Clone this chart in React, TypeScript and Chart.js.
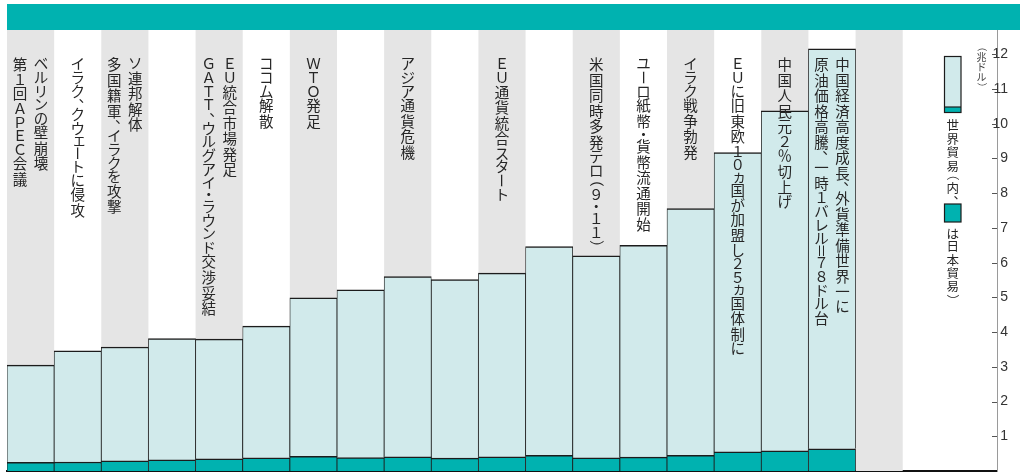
import React, { useEffect, useRef } from "react";
import { Chart, registerables } from "chart.js";

Chart.register(...registerables);

// ---- data ----
const years = [
  "1989", "1990", "1991", "1992", "1993", "1994", "1995", "1996", "1997",
  "1998", "1999", "2000", "2001", "2002", "2003", "2004", "2005", "2006", "2007",
];
const spareCategories = ["", " "];
// 世界貿易 (兆ドル)
const worldTrade = [
  3.05, 3.46, 3.57, 3.81, 3.8, 4.17, 4.99, 5.22, 5.6, 5.51, 5.7, 6.46, 6.2, 6.5,
  7.56, 9.17, 10.37, 12.16,
];
// 日本貿易 (兆ドル)
const japanTrade = [
  0.25, 0.26, 0.29, 0.32, 0.35, 0.38, 0.42, 0.39, 0.41, 0.37, 0.41, 0.45, 0.38,
  0.4, 0.45, 0.55, 0.58, 0.64,
];
const events: string[][] = [
  ["ベルリンの壁崩壊", "第１回ＡＰＥＣ会議"],
  ["イラク、クウェートに侵攻"],
  ["ソ連邦解体", "多国籍軍、イラクを攻撃"],
  [],
  ["ＥＵ統合市場発足", "ＧＡＴＴ、ウルグアイ・ラウンド交渉妥結"],
  ["ココム解散"],
  ["ＷＴＯ発足"],
  [],
  ["アジア通貨危機"],
  [],
  ["ＥＵ通貨統合スタート"],
  [],
  ["米国同時多発テロ（９・１１）"],
  ["ユーロ紙幣・貨幣流通開始"],
  ["イラク戦争勃発"],
  ["ＥＵに旧東欧１０ヵ国が加盟し２５ヵ国体制に"],
  ["中国人民元２％切上げ"],
  ["中国経済高度成長、外貨準備世界一に", "原油価格高騰、一時１バレル＝７８ドル台"],
];
const unitLabel = "（兆ドル）";
const legendWorld = "世界貿易（内、";
const legendJapan = "は日本貿易）";
const yMax = 12.7;

// ---- styles ----
const TEAL = "#00b2b0";
const LIGHT = "#d1eaeb";
const BAND = "#e5e5e5";
const EDGE = "#1c1c1c";
const INK = "#262626";
const CJK = '"Noto Sans CJK JP", "Noto Sans", sans-serif';

const SMALL_KANA = "ァィゥェォッャュョヮヵヶぁぃぅぇぉっゃゅょ";
const ROTATE = "ー－（）()＝=～〜";
const COMMA = "、。，．";

function advance(ch: string, s: number): number {
  if (COMMA.includes(ch)) return s * 0.68;
  if (ch === "・") return s * 0.7;
  if ("（）()".includes(ch)) return s * 0.72;
  if ("＝=".includes(ch)) return s * 0.72;
  if (SMALL_KANA.includes(ch)) return s * 0.78;
  if (/[\u3040-\u30ff]/.test(ch)) return s * 0.94;
  if (/[\uff10-\uff5a]/.test(ch)) return s * 0.94;
  return s * 1.07;
}

function drawVertical(
  ctx: CanvasRenderingContext2D,
  text: string,
  cx: number,
  top: number,
  s: number
) {
  ctx.save();
  ctx.font = `${s}px ${CJK}`;
  ctx.textAlign = "center";
  ctx.textBaseline = "middle";
  let y = top;
  for (const ch of Array.from(text)) {
    const a = advance(ch, s);
    const yc = y + a / 2;
    if (ROTATE.includes(ch)) {
      ctx.save();
      ctx.translate(cx, yc);
      ctx.rotate(Math.PI / 2);
      let dx = 0;
      if (ch === "（") dx = -s * 0.22;
      if (ch === "）") dx = s * 0.22;
      ctx.fillText(ch, dx, 0);
      ctx.restore();
    } else if (COMMA.includes(ch)) {
      ctx.fillText(ch, cx + s * 0.55, yc - s * 0.42);
    } else if (SMALL_KANA.includes(ch)) {
      ctx.fillText(ch, cx + s * 0.1, yc - s * 0.08);
    } else {
      ctx.fillText(ch, cx, yc);
    }
    y += a;
  }
  ctx.restore();
}

const backdropPlugin = {
  id: "backdrop",
  beforeDraw(chart: any) {
    const { ctx, chartArea, width } = chart;
    ctx.save();
    ctx.fillStyle = TEAL;
    ctx.fillRect(chartArea.left, 4, width - chartArea.left, chartArea.top - 4);
    ctx.restore();
  },
  beforeDatasetsDraw(chart: any) {
    const { ctx, chartArea } = chart;
    const xs = chart.scales.x;
    const w = xs.getPixelForValue(1) - xs.getPixelForValue(0);
    ctx.save();
    ctx.fillStyle = BAND;
    for (let i = 0; i < years.length; i += 2) {
      const x0 = xs.getPixelForValue(i) - w / 2;
      ctx.fillRect(x0, chartArea.top, w, chartArea.bottom - chartArea.top);
    }
    ctx.restore();
  },
};

const textPlugin = {
  id: "texts",
  afterDatasetsDraw(chart: any) {
    const { ctx, chartArea } = chart;
    const xs = chart.scales.x;
    const ys = chart.scales.y;
    ctx.save();
    ctx.fillStyle = INK;
    const top = chartArea.top + 27;
    events.forEach((lines, i) => {
      const cx = xs.getPixelForValue(i);
      if (lines.length === 1) {
        drawVertical(ctx, lines[0], cx, top, 14.5);
      } else if (lines.length === 2) {
        drawVertical(ctx, lines[0], cx + 10.5, top, 14.5);
        drawVertical(ctx, lines[1], cx - 10.5, top, 14.5);
      }
    });

    // legend
    const lx = 944.5;
    const lw = 16.5;
    const boxTop = 56.5;
    const boxBottom = 112.5;
    const tealH = 5.5;
    ctx.fillStyle = LIGHT;
    ctx.fillRect(lx, boxTop, lw, boxBottom - boxTop);
    ctx.fillStyle = TEAL;
    ctx.fillRect(lx, boxBottom - tealH, lw, tealH);
    ctx.strokeStyle = EDGE;
    ctx.lineWidth = 1.2;
    ctx.strokeRect(lx, boxTop, lw, boxBottom - boxTop);
    ctx.beginPath();
    ctx.moveTo(lx, boxBottom - tealH);
    ctx.lineTo(lx + lw, boxBottom - tealH);
    ctx.stroke();
    ctx.fillStyle = INK;
    drawVertical(ctx, legendWorld, lx + lw / 2, 119, 12.5);
    ctx.fillStyle = TEAL;
    ctx.fillRect(lx, 204, lw, 18);
    ctx.strokeRect(lx, 204, lw, 18);
    ctx.fillStyle = INK;
    drawVertical(ctx, legendJapan, lx + lw / 2, 228, 12.5);

    // unit
    ctx.fillStyle = "#444";
    drawVertical(ctx, unitLabel, 981.5, 45, 10);

    // y tick marks on the inner side of the axis
    ctx.strokeStyle = "#555";
    ctx.lineWidth = 1;
    ys.ticks.forEach((t: any) => {
      if (t.value <= 0) return;
      const y = Math.round(ys.getPixelForValue(t.value)) + 0.5;
      ctx.beginPath();
      ctx.moveTo(chartArea.right - 5, y);
      ctx.lineTo(chartArea.right, y);
      ctx.stroke();
    });
    ctx.restore();
  },
};

export default function App() {
  const ref = useRef<HTMLCanvasElement>(null);
  useEffect(() => {
    document.body.style.margin = "0";
    const canvas = ref.current!;
    const labels = [...years, ...spareCategories];
    const japan = labels.map((_, i) => (i < japanTrade.length ? japanTrade[i] : null));
    const rest = labels.map((_, i) =>
      i < worldTrade.length ? +(worldTrade[i] - japanTrade[i]).toFixed(3) : null
    );
    const border = { top: 1.5, left: 0.8, right: 0.8, bottom: 0 };
    const chart = new Chart(canvas, {
      type: "bar",
      data: {
        labels,
        datasets: [
          {
            label: "日本貿易",
            data: japan,
            backgroundColor: TEAL,
            borderColor: EDGE,
            borderWidth: border,
            barPercentage: 1,
            categoryPercentage: 1,
          },
          {
            label: "世界貿易",
            data: rest,
            backgroundColor: LIGHT,
            borderColor: EDGE,
            borderWidth: border,
            barPercentage: 1,
            categoryPercentage: 1,
          },
        ],
      },
      options: {
        animation: false,
        responsive: false,
        devicePixelRatio: 1,
        layout: { padding: { left: 7, right: 1, top: 30, bottom: 1 } },
        plugins: { legend: { display: false }, tooltip: { enabled: false } },
        scales: {
          x: {
            stacked: true,
            grid: { display: false, drawTicks: false },
            ticks: { display: false },
            border: { display: true, color: "#111", width: 2 },
          },
          y: {
            stacked: true,
            position: "right",
            min: 0,
            max: yMax,
            grid: { display: false, drawTicks: false },
            border: { display: true, color: "#9a9a9a", width: 1 },
            afterFit: (s: any) => {
              s.paddingTop = 0;
              s.paddingBottom = 0;
            },
            ticks: {
              stepSize: 1,
              includeBounds: false,
              mirror: true,
              padding: 11,
              color: "#333",
              font: { family: "Liberation Sans", size: 14 },
              callback: (v: any) => (Number(v) === 0 ? null : String(v)),
            },
          },
        },
      },
      plugins: [backdropPlugin, textPlugin],
    } as any);
    return () => chart.destroy();
  }, []);
  return <canvas ref={ref} width={1020} height={472} style={{ display: "block" }} />;
}
